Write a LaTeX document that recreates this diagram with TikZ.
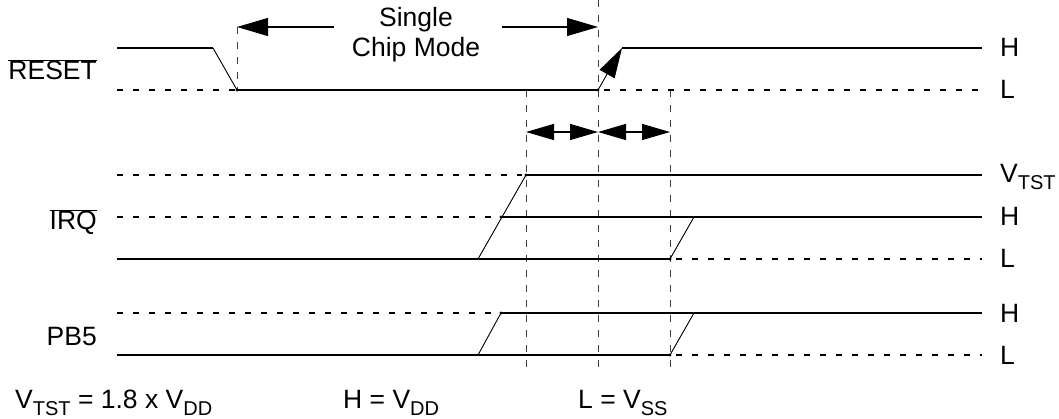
\documentclass[tikz,border=0pt]{standalone}
\usepackage{fontspec}
\setmainfont{Liberation Sans}
\usetikzlibrary{arrows.meta}
\newcommand\sbs[1]{\raisebox{-7pt}{\fontsize{20}{20}\selectfont #1}}
\begin{document}
\begin{tikzpicture}[x=1pt,y=-1pt,
  sig/.style={line width=1.1pt},
  lvl/.style={line width=2.6pt, dash pattern=on 6pt off 10pt},
  guide/.style={line width=0.8pt, dash pattern=on 7pt off 8pt, black!75},
  edgeline/.style={line width=0.9pt},
  lbl/.style={font=\fontsize{26.5}{30}\selectfont, inner sep=0pt},
  bigarrow/.style={line width=1.1pt, -{Triangle[length=31pt,width=18pt]}},
  dblarrow/.style={line width=1.1pt, {Triangle[length=28pt,width=16pt]}-{Triangle[length=28pt,width=16pt]}},
  jdot/.style={fill=black}]
\useasboundingbox (0,0) rectangle (1059,419);

% ---------- guides ----------
\draw[guide] (237,27) -- (237,90);
\draw[guide] (598,0) -- (598,370);
\draw[guide] (526,90) -- (526,370);
\draw[guide] (670,90) -- (670,370);

% ---------- RESET ----------
\draw[sig] (117,48) -- (213,48);
\draw[edgeline] (213,48) -- (237,90);
\draw[lvl] (117,90) -- (237,90);
\draw[sig] (237,90) -- (598,90);
\draw[edgeline, -{Triangle[length=30pt,width=17pt]}] (598,90) -- (622,48);
\draw[sig] (622,48) -- (982,48);
\draw[lvl] (604,90) -- (982,90);
\fill[jdot] (237,90) circle (1.6pt);
\fill[jdot] (598,90) circle (1.6pt);

% ---------- Single chip mode arrows ----------
\coordinate (a1s) at (334,27);
\coordinate (a1t) at (237,27);
\coordinate (a2s) at (502,27);
\coordinate (a2t) at (598,27);
\draw[bigarrow] (a1s) -- (a1t);
\draw[bigarrow] (a2s) -- (a2t);
\node[lbl, anchor=base] (single) at (416,27) {Single};
\node[lbl, anchor=base] (chip) at (416,57) {Chip Mode};

% ---------- timing arrows ----------
\coordinate (t1) at (526,132);
\coordinate (t2) at (598,132);
\coordinate (t3) at (670,132);
\draw[dblarrow] (t1) -- (t2);
\draw[dblarrow] (t2) -- (t3);

% ---------- IRQ ----------
\draw[lvl] (117,175) -- (522,175);
\draw[sig] (526,175) -- (982,175);
\draw[lvl] (117,217) -- (497,217);
\draw[sig] (501,217) -- (982,217);
\draw[sig] (117,259) -- (670,259);
\draw[edgeline] (478,259) -- (526,175);
\draw[edgeline] (670,259) -- (694,217);
\draw[lvl] (676,259) -- (982,259);
\fill[jdot] (526,175) circle (1.6pt);
\fill[jdot] (501,217) circle (1.6pt);
\fill[jdot] (670,259) circle (1.6pt);

% ---------- PB5 ----------
\draw[lvl] (117,313) -- (497,313);
\draw[sig] (501,313) -- (982,313);
\draw[sig] (117,355) -- (670,355);
\draw[edgeline] (478,355) -- (501,313);
\draw[edgeline] (670,355) -- (694,313);
\draw[lvl] (676,355) -- (982,355);
\fill[jdot] (501,313) circle (1.6pt);
\fill[jdot] (670,355) circle (1.6pt);

% ---------- left labels ----------
\node[lbl, anchor=base east] (reset) at (97,80) {$\overline{\mbox{RESET}}$};
\node[lbl, anchor=base east] (irq) at (97,230) {$\overline{\mbox{IRQ}}$};
\node[lbl, anchor=base east] (pb5) at (97,345) {PB5};

% ---------- right labels ----------
\node[lbl, anchor=base west] (rh) at (1000,57) {H};
\node[lbl, anchor=base west] (rl) at (1000,99) {L};
\node[lbl, anchor=base west] (iv) at (1000,183) {V\sbs{TST}};
\node[lbl, anchor=base west] (ih) at (1000,226) {H};
\node[lbl, anchor=base west] (il) at (1000,268) {L};
\node[lbl, anchor=base west] (ph) at (1000,322) {H};
\node[lbl, anchor=base west] (pl) at (1000,364) {L};

% ---------- legend ----------
\node[lbl, anchor=base west] (lv) at (15,408) {V\sbs{TST} = 1.8 x V\sbs{DD}};
\node[lbl, anchor=base west] (lh) at (343,408) {H = V\sbs{DD}};
\node[lbl, anchor=base west] (ll) at (578,408) {L = V\sbs{SS}};
\end{tikzpicture}
\end{document}
